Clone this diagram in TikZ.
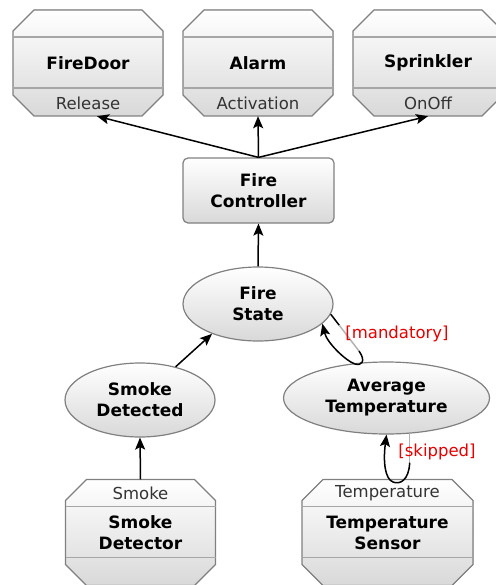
\documentclass[tikz,border=0pt]{standalone}
\usepackage{fontspec}
\setmainfont{DejaVu Sans}
\usetikzlibrary{shapes.geometric,arrows.meta,calc}

\newcommand{\titlefnt}{\fontsize{17}{21}\selectfont\bfseries}
\newcommand{\smallfnt}{\fontsize{16.5}{20}\selectfont}

\tikzset{
  shade/.style={draw=black!50, line width=1.2pt, top color=white, bottom color=black!15},
  devbox/.style={rectangle, minimum width=150pt, minimum height=106pt, inner sep=0pt,
    align=center, font=\titlefnt},
  ctrlbox/.style={shade, rectangle, rounded corners=5pt, minimum width=151pt,
    minimum height=65pt, align=center, font=\titlefnt},
  databox/.style={shade, ellipse, inner sep=0pt, minimum width=150pt,
    minimum height=74pt, align=center, font=\titlefnt},
  subtext/.style={font=\smallfnt, text=black!80},
  guard/.style={font=\smallfnt, text=red!90!black},
  divline/.style={draw=black!35, line width=1.2pt},
  line/.style={line width=1.5pt},
  fadeline/.style={line width=1.5pt, draw=black!30},
  flow/.style={line, -{Stealth[length=12pt,width=10pt,inset=2.5pt]}}
}

\begin{document}
\begin{tikzpicture}[x=1pt,y=-1pt]
  \useasboundingbox (0,0) rectangle (495,585);

  % octagon outlines: centre x, centre y, half width
  \foreach \x/\y/\w in {88/63/75, 258/63/75, 428/63/75, 140.5/532.5/75, 387.5/532.5/85.5} {
    \filldraw[shade] (\x-\w,\y-32) -- (\x-\w+21,\y-53) -- (\x+\w-21,\y-53) -- (\x+\w,\y-32)
      -- (\x+\w,\y+32) -- (\x+\w-21,\y+53) -- (\x-\w+21,\y+53) -- (\x-\w,\y+32) -- cycle;
    \draw[divline] (\x-\w,\y-26) -- (\x+\w,\y-26);
    \draw[divline] (\x-\w,\y+25) -- (\x+\w,\y+25);
  }

  % actuators
  \node[devbox] (firedoor) at (88,63) {FireDoor};
  \node[devbox] (alarm) at (258,63) {Alarm};
  \node[devbox] (sprinkler) at (428,63) {Sprinkler};
  \foreach \n/\s in {firedoor/Release, alarm/Activation, sprinkler/OnOff}
    \node[subtext] (\n-sub) at ($(\n.center)+(0,40)$) {\s};

  % controller and data
  \node[ctrlbox] (ctrl) at (258.5,190.5) {Fire\\Controller};
  \node[databox] (fstate) at (258,304) {Fire\\State};
  \node[databox] (smokedet) at (140,400) {Smoke\\Detected};
  \node[databox, minimum width=206pt, minimum height=72pt] (avgtemp) at (386.5,398) {Average\\Temperature};

  % sensors
  \node[devbox] (smokesensor) at (140.5,532.5) {Smoke\\Detector};
  \node[devbox, minimum width=171pt] (tempsensor) at (387.5,532.5) {Temperature\\Sensor};
  \foreach \n/\s in {smokesensor/Smoke, tempsensor/Temperature}
    \node[subtext] (\n-sub) at ($(\n.center)+(0,-39)$) {\s};

  % flows
  \draw[flow] (ctrl.north) -- ($(firedoor.south)+(9,0)$);
  \draw[flow] (ctrl.north) -- (alarm.south);
  \draw[flow] (ctrl.north) -- (sprinkler.south);
  \draw[flow] (fstate.north) -- (ctrl.south);
  \draw[flow] (smokedet.43) -- (fstate.213);
  \draw[flow] (smokesensor.north) -- (smokedet.south);

  % [mandatory] loop
  \coordinate (mandturn) at (359,351);
  \coordinate (mandfade) at ($(fstate.-8)!.3!(mandturn)$);
  \draw[line] (fstate.-8) -- (mandfade);
  \draw[fadeline] (mandfade) -- (mandturn);
  \draw[flow] (mandturn) .. controls (366,361) and (362,366) .. (355,364)
    .. controls (346,361) and (327,343) .. (fstate.-17);
  \node[guard] (mandlabel) at (397,334) {[mandatory]};

  % [skipped] loop
  \coordinate (skipturn) at ($(avgtemp.-57)+(0,29)$);
  \draw[fadeline] (avgtemp.-57) -- (skipturn);
  \draw[flow] (skipturn) .. controls (409,480) and (400,485) .. (393,482)
    .. controls (385,479) and (383,462) .. (avgtemp.south);
  \node[guard] (skiplabel) at (437,452) {[skipped]};
\end{tikzpicture}
\end{document}
